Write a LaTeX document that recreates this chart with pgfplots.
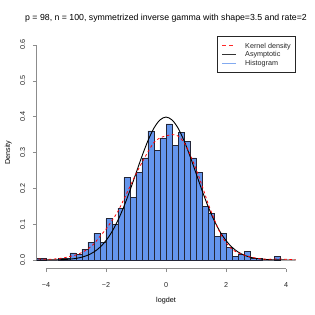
\documentclass[border=0pt]{standalone}
\usepackage{pgfplots}
\pgfplotsset{compat=1.18}
\usepackage{fontspec}
\setmainfont{Liberation Sans}
\definecolor{histfill}{RGB}{100,149,237}
\definecolor{histedge}{RGB}{35,38,55}
\definecolor{legblue}{RGB}{130,170,240}
\definecolor{legred}{RGB}{255,40,40}
\definecolor{axgray}{RGB}{140,140,140}
\pgfplotstableread{
x y
-4.4 0.005
-4.2 0.005
-4.0 0
-3.8 0
-3.6 0.005
-3.4 0.005
-3.2 0.02
-3.0 0.015
-2.8 0.03
-2.6 0.05
-2.4 0.075
-2.2 0.05
-2.0 0.115
-1.8 0.10
-1.6 0.145
-1.4 0.23
-1.2 0.175
-1.0 0.245
-0.8 0.285
-0.6 0.36
-0.4 0.305
-0.2 0.34
0.0 0.38
0.2 0.32
0.4 0.355
0.6 0.33
0.8 0.285
1.0 0.245
1.2 0.15
1.4 0.13
1.6 0.065
1.8 0.075
2.0 0.035
2.2 0.01
2.4 0.015
2.6 0.025
2.8 0.005
3.0 0.005
3.2 0
3.4 0
3.6 0.01
3.8 0.01
}\histdata
\pgfplotstableread{
x y
-4.6 0.001
-4.3 0.003
-4.0 0.002
-3.7 0.003
-3.4 0.006
-3.2 0.010
-3.0 0.014
-2.8 0.021
-2.6 0.031
-2.4 0.045
-2.2 0.066
-2.0 0.086
-1.8 0.110
-1.6 0.136
-1.4 0.170
-1.2 0.205
-1.0 0.240
-0.8 0.272
-0.6 0.302
-0.4 0.328
-0.2 0.341
0.0 0.346
0.2 0.350
0.4 0.346
0.6 0.328
0.8 0.295
1.0 0.254
1.2 0.208
1.4 0.158
1.6 0.115
1.8 0.076
2.0 0.048
2.2 0.030
2.4 0.020
2.6 0.014
2.8 0.009
3.0 0.005
3.2 0.003
3.4 0.002
3.6 0.003
3.8 0.003
4.0 0.002
4.2 0.001
4.4 0.0005
}\kdedata
\pgfplotstableread{
x y
-4.4 0.0000
-4.0 0.0001
-3.8 0.0003
-3.6 0.0006
-3.4 0.0012
-3.2 0.0024
-3.0 0.0044
-2.8 0.0079
-2.6 0.0136
-2.4 0.0224
-2.2 0.0355
-2.0 0.0540
-1.8 0.0790
-1.6 0.1109
-1.4 0.1497
-1.2 0.1942
-1.0 0.2420
-0.8 0.2897
-0.6 0.3332
-0.4 0.3683
-0.2 0.3910
0.0 0.3989
0.2 0.3910
0.4 0.3683
0.6 0.3332
0.8 0.2897
1.0 0.2420
1.2 0.1942
1.4 0.1497
1.6 0.1109
1.8 0.0790
2.0 0.0540
2.2 0.0355
2.4 0.0224
2.6 0.0136
2.8 0.0079
3.0 0.0044
3.2 0.0024
3.4 0.0012
3.6 0.0006
3.8 0.0003
4.0 0.0001
4.4 0.0000
}\normdata
\begin{document}
\begin{tikzpicture}
\useasboundingbox (-36.3pt,-46.4pt) rectangle (278.7pt,268.6pt);
\begin{axis}[
  at={(0,0)}, anchor=south west,
  scale only axis, width=259.4pt, height=232.2pt,
  xmin=-4.32, xmax=4.32, ymin=-0.024, ymax=0.624,
  axis x line*=bottom, axis y line*=left,
  axis line style={draw=none},
  clip mode=individual,
  xtick={-4,-2,0,2,4},
  xticklabels={−4,−2,0,2,4},
  ytick={0,0.1,0.2,0.3,0.4,0.5,0.6},
  yticklabels={0.0,0.1,0.2,0.3,0.4,0.5,0.6},
  tick align=outside, major tick length=3.5pt,
  tick style={axgray, line width=0.6pt},
  ticklabel style={font=\fontsize{7.2}{8}\selectfont, text=black!85},
  xticklabel style={yshift=-7pt},
  yticklabel style={rotate=90, anchor=south, yshift=4pt},
  xlabel={logdet}, ylabel={Density},
  xlabel style={at={(axis description cs:0.5,0)}, anchor=center, yshift=-32.4pt, font=\fontsize{7.2}{8}\selectfont},
  ylabel style={at={(axis description cs:0,0.5)}, anchor=center, yshift=28pt, font=\fontsize{7.2}{8}\selectfont},
  title={p = 98, n = 100, symmetrized inverse gamma with shape=3.5 and rate=2},
  title style={at={(axis description cs:0.5,1)}, anchor=center, yshift=12pt, font=\fontsize{8.75}{10}\selectfont},
]
\addplot[ybar interval, fill=histfill, draw=histedge, line width=0.6pt] table {\histdata};
\addplot[black, line width=0.9pt, smooth] table {\normdata};
\addplot[red, line width=0.8pt, dash pattern=on 2.6pt off 2.6pt, smooth] table {\kdedata};
\draw[axgray, line width=0.6pt] (axis cs:-4,-0.024) -- (axis cs:4,-0.024);
\draw[axgray, line width=0.6pt] (axis cs:-4.32,0) -- (axis cs:-4.32,0.6);
\end{axis}
% legend
\begin{scope}[font=\fontsize{7.2}{8}\selectfont]
\filldraw[fill=white, draw=black!85, line width=0.5pt] (181pt,196pt) rectangle (259.4pt,232.2pt);
\fill[legred] (185.4pt,222.2pt) rectangle (189.4pt,223.6pt);
\fill[legred] (192.4pt,222.2pt) rectangle (196.4pt,223.6pt);
\fill[black!80] (185.4pt,213.5pt) rectangle (199.7pt,214.7pt);
\fill[legblue] (185.4pt,204.6pt) rectangle (199.7pt,206.0pt);
\node[anchor=base west, inner sep=0pt, text=black!85] at (208.7pt,220.4pt) {Kernel density};
\node[anchor=base west, inner sep=0pt, text=black!85] at (208.7pt,211.6pt) {Asymptotic};
\node[anchor=base west, inner sep=0pt, text=black!85] at (208.7pt,202.8pt) {Histogram};
\end{scope}
\end{tikzpicture}
\end{document}
